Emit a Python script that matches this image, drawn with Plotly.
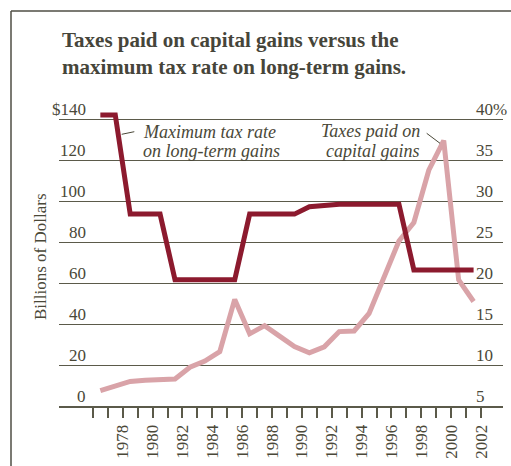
import plotly.graph_objects as go

years = list(range(1977, 2003))
taxes_paid = [7.5, 9.8, 12.0, 12.6, 13.0, 13.2, 18.9, 21.9, 26.5, 52.0,
              35.2, 39.2, 34.1, 29.0, 26.0, 28.9, 36.3, 36.6, 45.2, 63.5,
              80.5, 89.5, 115.0, 129.5, 61.5, 51.0]
max_rate = [40.5, 40.5, 28.4, 28.4, 28.4, 20.4, 20.4, 20.4, 20.4, 20.4,
            28.4, 28.4, 28.4, 28.4, 29.3, 29.5, 29.6, 29.6, 29.6, 29.6,
            29.6, 21.6, 21.6, 21.6, 21.6, 21.6]

left_ticks = [0, 20, 40, 60, 80, 100, 120, 140]
left_text = ["0", "20", "40", "60", "80", "100", "120", "$140"]
right_ticks = [5, 10, 15, 20, 25, 30, 35, 40]
right_text = ["5", "10", "15", "20", "25", "30", "35", "40%"]
tick_years = list(range(1976, 2003))
label_years = list(range(1978, 2003, 2))

TXT = "#4a4838"
GRID = "#5b5a4a"
RED = "#8c1a2e"
PINK = "#d9a3a8"
SERIF = "Liberation Serif"

def px(xp):
    return (xp - 59) / 444

def py(yp):
    return (406 - yp) / 306

ytop = 149.27
fig = go.Figure()
fig.add_trace(go.Scatter(x=years, y=taxes_paid, mode="lines",
                         line=dict(color=PINK, width=5), yaxis="y"))
fig.add_trace(go.Scatter(x=years, y=max_rate, mode="lines",
                         line=dict(color=RED, width=5), yaxis="y2"))

anns = []
for v, t in zip(left_ticks, left_text):
    anns.append(dict(x=px(88), xref="paper", y=v, yref="y", text=t, showarrow=False,
                     xanchor="right", yanchor="middle", yshift=10,
                     font=dict(family=SERIF, size=17, color=TXT)))
for v, t in zip(right_ticks, right_text):
    anns.append(dict(x=px(474), xref="paper", y=v, yref="y2", text=t, showarrow=False,
                     xanchor="left", yanchor="middle", yshift=10,
                     font=dict(family=SERIF, size=17, color=TXT)))

anns.append(dict(x=px(40), xref="paper", y=py(257), yref="paper", text="Billions of Dollars",
                 textangle=-90, showarrow=False, xanchor="center", yanchor="middle",
                 font=dict(family=SERIF, size=17, color=TXT)))

series_labels = [
    ("Maximum tax rate", 140.5, 131.5, "left"),
    ("on long-term gains", 140.5, 150.5, "left"),
    ("Taxes paid on", 422, 131, "right"),
    ("capital gains", 422, 150.5, "right"),
]
for t, xp, yp, anc in series_labels:
    anns.append(dict(x=px(xp), xref="paper", y=py(yp), yref="paper",
                     text="<i>" + t + "</i>", showarrow=False, xanchor=anc,
                     yanchor="middle", font=dict(family=SERIF, size=18, color=TXT)))

shapes = [
    dict(type="line", xref="paper", yref="paper", x0=px(121.7), x1=px(134.3),
         y0=py(134.3), y1=py(131.7), line=dict(color=TXT, width=1)),
    dict(type="line", xref="paper", yref="paper", x0=px(426.7), x1=px(440),
         y0=py(133.3), y1=py(143.3), line=dict(color=TXT, width=1)),
    dict(type="line", xref="paper", yref="paper", x0=px(11), x1=px(515),
         y0=py(11), y1=py(11), line=dict(color="#4f4e44", width=1.5)),
    dict(type="line", xref="paper", yref="paper", x0=px(11), x1=px(11),
         y0=py(11), y1=py(470), line=dict(color="#4f4e44", width=1.5)),
]

fig.update_layout(
    width=511, height=466,
    margin=dict(l=59, r=8, t=100, b=60),
    paper_bgcolor="white", plot_bgcolor="white",
    showlegend=False,
    title=dict(text="<b>Taxes paid on capital gains versus the<br>maximum tax rate on long-term gains.</b>",
               x=62/511, xanchor="left", xref="container",
               y=1-47/466, yanchor="top", yref="container",
               font=dict(family=SERIF, size=21, color="#46453a")),
    xaxis=dict(range=[1974.23, 2003.97], showgrid=False, zeroline=False,
               showline=True, linecolor=GRID, linewidth=2,
               ticks="outside", ticklen=10, tickwidth=1.5, tickcolor=GRID,
               tickvals=[y + 0.5 for y in tick_years],
               ticktext=[str(y) if y in label_years else "" for y in tick_years],
               tickangle=-90,
               tickfont=dict(family=SERIF, size=17, color=TXT)),
    yaxis=dict(range=[0, ytop], tickvals=left_ticks[1:], showticklabels=False,
               showgrid=True, gridcolor=GRID, gridwidth=1, zeroline=False, ticks=""),
    yaxis2=dict(range=[5, 5 + ytop / 4], overlaying="y", side="right",
                showticklabels=False, showgrid=False, zeroline=False, ticks=""),
    annotations=anns,
    shapes=shapes,
)

fig.write_html("out.html")
